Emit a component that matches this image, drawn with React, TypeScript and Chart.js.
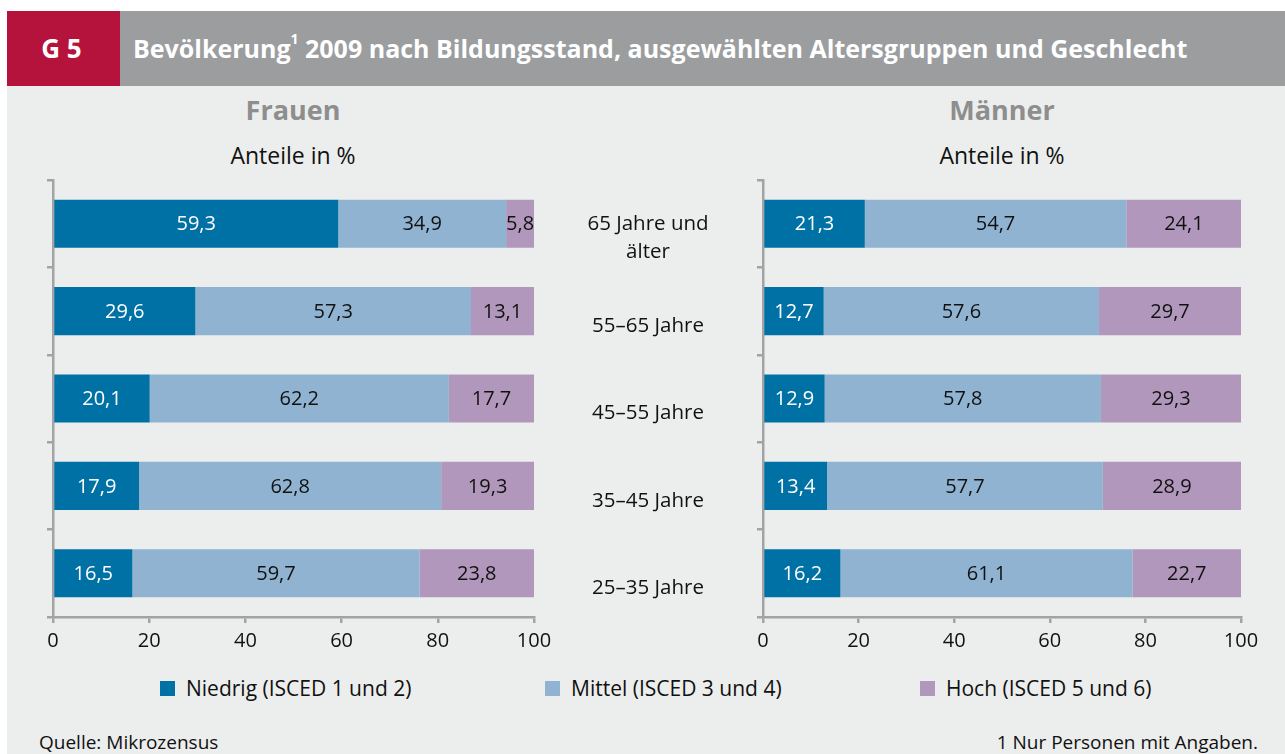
import React, { useEffect, useRef } from "react";
import { Chart, registerables } from "chart.js";

Chart.register(...registerables);

const FONT = "'Open Sans', 'Noto Sans', sans-serif";

const categories: (string | string[])[] = [
  ["65 Jahre und", "älter"],
  "55–65 Jahre",
  "45–55 Jahre",
  "35–45 Jahre",
  "25–35 Jahre",
];
const seriesNames = ["Niedrig (ISCED 1 und 2)", "Mittel (ISCED 3 und 4)", "Hoch (ISCED 5 und 6)"];
const seriesColors = ["#0071a4", "#8fb3d1", "#b197bb"];
const labelColors = ["#ffffff", "#111111", "#111111"];

const frauenNiedrig = [59.3, 29.6, 20.1, 17.9, 16.5];
const frauenMittel = [34.9, 57.3, 62.2, 62.8, 59.7];
const frauenHoch = [5.8, 13.1, 17.7, 19.3, 23.8];

const maennerNiedrig = [21.3, 12.7, 12.9, 13.4, 16.2];
const maennerMittel = [54.7, 57.6, 57.8, 57.7, 61.1];
const maennerHoch = [24.1, 29.7, 29.3, 28.9, 22.7];

const xTickMin = 0;
const xTickMax = 100;
const xTickStep = 20;

const AXIS = "#a2a3a4";

const valueLabelPlugin = {
  id: "valueLabels",
  afterDatasetsDraw(chart: any) {
    const ctx = chart.ctx;
    ctx.save();
    ctx.font = `20px ${FONT}`;
    ctx.textAlign = "center";
    ctx.textBaseline = "middle";
    chart.data.datasets.forEach((ds: any, di: number) => {
      const meta = chart.getDatasetMeta(di);
      meta.data.forEach((el: any, i: number) => {
        const p = el.getProps(["x", "y", "base"], true);
        const v = ds.data[i] as number;
        ctx.fillStyle = labelColors[di];
        ctx.fillText(v.toFixed(1).replace(".", ","), (p.x + p.base) / 2, p.y + 1);
      });
    });
    ctx.restore();
  },
};

const categoryLabelPlugin = {
  id: "categoryLabels",
  afterDraw(chart: any) {
    const opts = chart.options.plugins.categoryLabels;
    if (!opts || !opts.show) return;
    const ctx = chart.ctx;
    const y = chart.scales.y;
    ctx.save();
    ctx.font = `20.5px ${FONT}`;
    ctx.fillStyle = "#111111";
    ctx.textAlign = "center";
    ctx.textBaseline = "middle";
    categories.forEach((c, i) => {
      const lines = Array.isArray(c) ? c : [c];
      const cy = y.getPixelForValue(i);
      const start = cy + 15 - (lines.length - 1) * 15;
      lines.forEach((ln, li) => {
        ctx.fillText(ln, opts.x, start + li * 28);
      });
    });
    ctx.restore();
  },
};

function makeConfig(series: number[][], padding: any, showCats: boolean): any {
  return {
    type: "bar",
    data: {
      labels: categories.map((c) => (Array.isArray(c) ? c.join(" ") : c)),
      datasets: series.map((d, i) => ({
        label: seriesNames[i],
        data: d,
        backgroundColor: seriesColors[i],
        borderWidth: 0,
        categoryPercentage: 1,
        barPercentage: 0.55,
      })),
    },
    options: {
      indexAxis: "y",
      responsive: false,
      animation: false,
      devicePixelRatio: 1,
      layout: { padding },
      plugins: {
        legend: { display: false },
        tooltip: { enabled: false },
        title: { display: false },
        categoryLabels: { show: showCats, x: 641 },
      },
      scales: {
        x: {
          type: "linear",
          stacked: true,
          min: xTickMin,
          max: xTickMax,
          ticks: {
            stepSize: xTickStep,
            color: "#111111",
            font: { family: FONT, size: 20 },
            padding: 6,
          },
          grid: {
            drawOnChartArea: false,
            drawTicks: true,
            tickLength: 6,
            color: AXIS,
            lineWidth: 2.5,
          },
          border: { display: true, color: AXIS, width: 2.5 },
          afterFit: (s: any) => {
            s.height = 50;
          },
        },
        y: {
          type: "category",
          stacked: true,
          ticks: { display: false },
          grid: {
            offset: true,
            drawOnChartArea: false,
            drawTicks: true,
            tickLength: 6,
            color: AXIS,
            lineWidth: 2.5,
          },
          border: { display: true, color: AXIS, width: 2.5 },
          afterFit: (s: any) => {
            s.width = 6;
          },
        },
      },
    },
    plugins: [valueLabelPlugin, categoryLabelPlugin],
  };
}

function BarCanvas(props: {
  series: number[][];
  left: number;
  width: number;
  padding: any;
  showCats: boolean;
}) {
  const ref = useRef<HTMLCanvasElement | null>(null);
  useEffect(() => {
    if (!ref.current) return;
    const chart = new Chart(ref.current, makeConfig(props.series, props.padding, props.showCats));
    return () => chart.destroy();
  }, []);
  return (
    <canvas
      ref={ref}
      width={props.width}
      height={497}
      style={{ position: "absolute", left: props.left, top: 170, width: props.width, height: 497 }}
    />
  );
}

const abs = (s: any): any => ({ position: "absolute", ...s });

export default function App() {
  return (
    <div
      style={abs({
        left: 0,
        top: 0,
        width: 1285,
        height: 754,
        background: "#ffffff",
        fontFamily: FONT,
        overflow: "hidden",
      })}
    >
      <div style={abs({ left: 7, top: 86, width: 1278, height: 668, background: "#eceeed" })} />
      <div
        style={abs({
          left: 7,
          top: 11,
          width: 113,
          height: 75,
          background: "#b5133b",
          color: "#fff",
          fontWeight: 700,
          fontSize: 26,
          lineHeight: "75px",
          textAlign: "center",
          paddingRight: 4,
          boxSizing: "border-box",
        })}
      >
        G 5
      </div>
      <div
        style={abs({
          left: 120,
          top: 11,
          width: 1165,
          height: 75,
          background: "#9c9d9f",
          color: "#fff",
          fontWeight: 700,
          fontSize: 25,
          lineHeight: "75px",
          paddingLeft: 13,
          boxSizing: "border-box",
          whiteSpace: "nowrap",
        })}
      >
        Bevölkerung<sup style={{ fontSize: 14, verticalAlign: "top", position: "relative", top: -10 }}>1</sup> 2009 nach
        Bildungsstand, ausgewählten Altersgruppen und Geschlecht
      </div>

      <div style={abs({ left: 143, top: 92, width: 300, textAlign: "center", fontSize: 27, fontWeight: 700, color: "#8e8e8e", lineHeight: "36px" })}>
        Frauen
      </div>
      <div style={abs({ left: 143, top: 140, width: 300, textAlign: "center", fontSize: 23, color: "#111", lineHeight: "30px" })}>
        Anteile in %
      </div>
      <div style={abs({ left: 852, top: 92, width: 300, textAlign: "center", fontSize: 27, fontWeight: 700, color: "#8e8e8e", lineHeight: "36px" })}>
        Männer
      </div>
      <div style={abs({ left: 852, top: 140, width: 300, textAlign: "center", fontSize: 23, color: "#111", lineHeight: "30px" })}>
        Anteile in %
      </div>

      <BarCanvas
        series={[frauenNiedrig, frauenMittel, frauenHoch]}
        left={7}
        width={733}
        padding={{ left: 40, right: 206, top: 10, bottom: 0 }}
        showCats={true}
      />
      <BarCanvas
        series={[maennerNiedrig, maennerMittel, maennerHoch]}
        left={740}
        width={545}
        padding={{ left: 17, right: 44, top: 10, bottom: 0 }}
        showCats={false}
      />

      {seriesNames.map((n, i) => {
        const xs = [160, 545, 920];
        return (
          <div key={n} style={abs({ left: xs[i], top: 673, height: 30, display: "flex", alignItems: "center", whiteSpace: "nowrap" })}>
            <span style={{ display: "inline-block", width: 15, height: 15, background: seriesColors[i], marginRight: 11 }} />
            <span style={{ fontSize: 21, color: "#111", lineHeight: "30px" }}>{n}</span>
          </div>
        );
      })}

      <div style={abs({ left: 39, top: 729, fontSize: 19, color: "#111", lineHeight: "26px", whiteSpace: "nowrap" })}>
        Quelle: Mikrozensus
      </div>
      <div style={abs({ right: 27, top: 729, fontSize: 19, color: "#111", lineHeight: "26px", whiteSpace: "nowrap" })}>
        1 Nur Personen mit Angaben.
      </div>
    </div>
  );
}
